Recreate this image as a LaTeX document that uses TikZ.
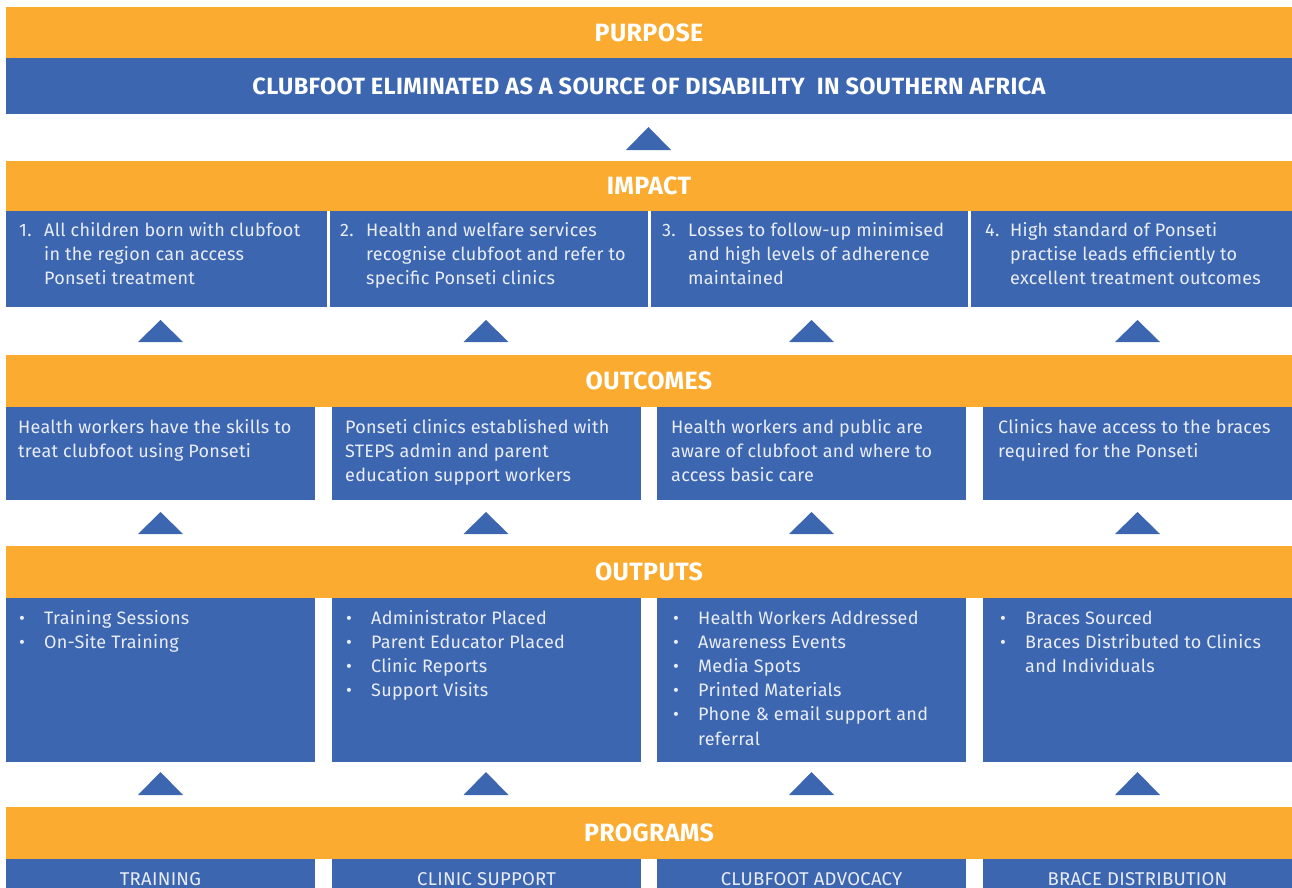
\documentclass[tikz,border=0pt]{standalone}
\usepackage{fontspec}
\setmainfont{Fira Sans}[LetterSpace=1.5]
\definecolor{orng}{HTML}{FBAC30}
\definecolor{blu}{HTML}{3D66B0}
\definecolor{txt}{HTML}{E9EDF6}
\begin{document}
\begin{tikzpicture}[x=1pt,y=-1pt,
  hdr/.style={fill=orng,inner sep=0,minimum width=1286pt,text=white,font=\fontsize{25}{28}\selectfont\bfseries},
  bar/.style={fill=blu,inner sep=0,text=white},
  cell/.style={fill=blu,inner sep=0,anchor=north west},
  body/.style={inner sep=0,anchor=base west,text=txt,font=\fontsize{18}{24.2}\selectfont},
  prog/.style={inner sep=0,anchor=base,text=txt,font=\fontsize{18.5}{24}\selectfont},
  tri/.style={fill=blu}]
\useasboundingbox (0,0) rectangle (1292,888);
% PURPOSE
\node[hdr,minimum height=51pt] (purpose) at (649,32.5) {PURPOSE};
\node[bar,minimum width=1286pt,minimum height=56pt,font=\fontsize{23.5}{26}\selectfont\bfseries] (goal) at (649,86) {CLUBFOOT ELIMINATED AS A SOURCE OF DISABILITY\ \ IN SOUTHERN AFRICA};
\fill[tri] (626,150) -- (648.5,127) -- (671,150) -- cycle;
% IMPACT
\node[hdr,minimum height=50pt] (impact) at (649,186) {IMPACT};
\node[cell,minimum width=321pt,minimum height=96pt] (i1) at (6,211) {};
\node[cell,minimum width=318.5pt,minimum height=96pt] (i2) at (329.5,211) {};
\node[cell,minimum width=317.5pt,minimum height=96pt] (i3) at (650.5,211) {};
\node[cell,minimum width=321.5pt,minimum height=96pt] (i4) at (970.5,211) {};
\node[body] (n1) at (19,236) {1.};
\node[body] (t1) at (44,236) {\parbox[t]{280pt}{\raggedright All children born with clubfoot\\in the region can access\\Ponseti treatment}};
\node[body] (n2) at (340,236) {2.};
\node[body] (t2) at (366,236) {\parbox[t]{280pt}{\raggedright Health and welfare services\\recognise clubfoot and refer to\\specific Ponseti clinics}};
\node[body] (n3) at (662,236) {3.};
\node[body] (t3) at (688,236) {\parbox[t]{280pt}{\raggedright Losses to follow-up minimised\\and high levels of adherence\\maintained}};
\node[body] (n4) at (985,236) {4.};
\node[body] (t4) at (1010,236) {\parbox[t]{280pt}{\raggedright High standard of Ponseti\\practise leads efficiently to\\excellent treatment outcomes}};
\foreach \c in {160.5,486,811.5,1137.5}{\fill[tri] (\c-22.5,342) -- (\c,320) -- (\c+22.5,342) -- cycle;}
% OUTCOMES
\node[hdr,minimum height=52pt] (outcomes) at (649,381) {OUTCOMES};
\node[cell,minimum width=309pt,minimum height=93pt] (o1) at (6,407) {};
\node[cell,minimum width=309pt,minimum height=93pt] (o2) at (332,407) {};
\node[cell,minimum width=309pt,minimum height=93pt] (o3) at (657,407) {};
\node[cell,minimum width=309pt,minimum height=93pt] (o4) at (983,407) {};
\node[body] (ot1) at (18,433) {\parbox[t]{300pt}{\raggedright Health workers have the skills to\\treat clubfoot using Ponseti}};
\node[body] (ot2) at (345,433) {\parbox[t]{300pt}{\raggedright Ponseti clinics established with\\STEPS admin and parent\\education support workers}};
\node[body] (ot3) at (671,433) {\parbox[t]{300pt}{\raggedright Health workers and public are\\aware of clubfoot and where to\\access basic care}};
\node[body] (ot4) at (998,433) {\parbox[t]{300pt}{\raggedright Clinics have access to the braces\\required for the Ponseti}};
\foreach \c in {160.5,486,811.5,1137.5}{\fill[tri] (\c-22.5,534) -- (\c,512) -- (\c+22.5,534) -- cycle;}
% OUTPUTS
\node[hdr,minimum height=52pt] (outputs) at (649,572) {OUTPUTS};
\node[cell,minimum width=309pt,minimum height=164pt] (p1) at (6,598) {};
\node[cell,minimum width=309pt,minimum height=164pt] (p2) at (332,598) {};
\node[cell,minimum width=309pt,minimum height=164pt] (p3) at (657,598) {};
\node[cell,minimum width=309pt,minimum height=164pt] (p4) at (983,598) {};
\newcommand\bl{\makebox[25pt][l]{•}}
\newcommand\ind{\hspace*{25pt}}
\node[body] (pt1) at (19,624) {\parbox[t]{300pt}{\raggedright \bl Training Sessions\\\bl On-Site Training}};
\node[body] (pt2) at (346,624) {\parbox[t]{300pt}{\raggedright \bl Administrator Placed\\\bl Parent Educator Placed\\\bl Clinic Reports\\\bl Support Visits}};
\node[body] (pt3) at (673,624) {\parbox[t]{300pt}{\raggedright \bl Health Workers Addressed\\\bl Awareness Events\\\bl Media Spots\\\bl Printed Materials\\\bl Phone \& email support and\\\ind referral}};
\node[body] (pt4) at (1000,624) {\parbox[t]{300pt}{\raggedright \bl Braces Sourced\\\bl Braces Distributed to Clinics\\\ind and Individuals}};
\foreach \c in {160.5,486,811.5,1137.5}{\fill[tri] (\c-22.5,795) -- (\c,772) -- (\c+22.5,795) -- cycle;}
% PROGRAMS
\node[hdr,minimum height=52pt] (programs) at (649,833) {PROGRAMS};
\node[cell,minimum width=309pt,minimum height=40pt] (g1) at (6,859) {};
\node[cell,minimum width=309pt,minimum height=40pt] (g2) at (332,859) {};
\node[cell,minimum width=309pt,minimum height=40pt] (g3) at (657,859) {};
\node[cell,minimum width=309pt,minimum height=40pt] (g4) at (983,859) {};
\node[prog] (gl1) at (160.5,885) {TRAINING};
\node[prog] (gl2) at (486.5,885) {CLINIC SUPPORT};
\node[prog] (gl3) at (811.5,885) {CLUBFOOT ADVOCACY};
\node[prog] (gl4) at (1137.5,885) {BRACE DISTRIBUTION};
\end{tikzpicture}
\end{document}
